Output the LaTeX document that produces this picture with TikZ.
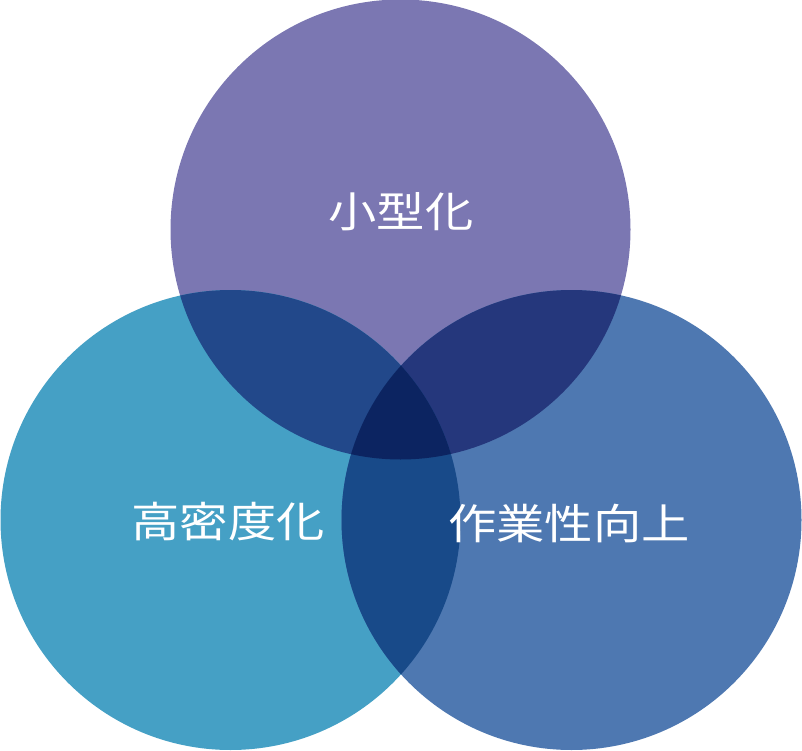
\documentclass[tikz,border=0pt]{standalone}
\usepackage{fontspec}
\newfontfamily\cjk[FakeStretch=1.15]{Noto Sans CJK JP}
\definecolor{cTop}{HTML}{7B77B2}
\definecolor{cLeft}{HTML}{45A0C5}
\definecolor{cRight}{HTML}{4E78B1}
\definecolor{cTL}{HTML}{22488A}
\definecolor{cTR}{HTML}{25377C}
\definecolor{cLR}{HTML}{184A89}
\definecolor{cMid}{HTML}{0C2461}
\tikzset{lbl/.style={text=white, font=\cjk\fontsize{42}{46}\selectfont, inner sep=0pt}}
\begin{document}
\begin{tikzpicture}[x=1pt,y=-1pt]
\useasboundingbox (0,0) rectangle (802,751);
\coordinate (T) at (400.5,229.5);
\coordinate (L) at (230.5,520);
\coordinate (R) at (571.5,520);
\def\rr{230pt}
\fill[cTop] (T) circle[radius=\rr];
\fill[cLeft] (L) circle[radius=\rr];
\fill[cRight] (R) circle[radius=\rr];
\begin{scope}
\clip (T) circle[radius=\rr];
\fill[cTL] (L) circle[radius=\rr];
\fill[cTR] (R) circle[radius=\rr];
\end{scope}
\begin{scope}
\clip (L) circle[radius=\rr];
\fill[cLR] (R) circle[radius=\rr];
\clip (R) circle[radius=\rr];
\fill[cMid] (T) circle[radius=\rr];
\end{scope}
\node[lbl] (top) at (401,212) {小型化};
\node[lbl] (left) at (228,522) {高密度化};
\node[lbl] (right) at (569,523) {作業性向上};
\end{tikzpicture}
\end{document}
